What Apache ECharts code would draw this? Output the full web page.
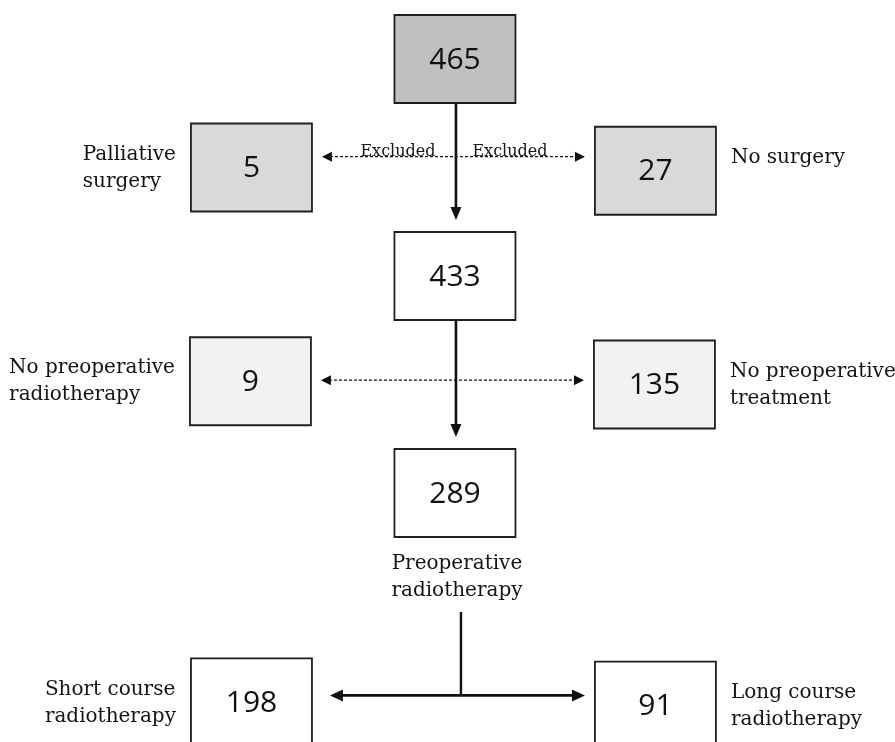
<!DOCTYPE html>
<html lang="en">
<head>
<meta charset="UTF-8">
<title>Patient flow</title>
<script src="https://cdn.jsdelivr.net/npm/echarts@6/dist/echarts.min.js"></script>
<style>
  html, body { margin: 0; padding: 0; background: #fff; }
  #main { width: 895px; height: 742px; }
</style>
</head>
<body>
<div id="main"></div>
<script>
// patient counts per box, top to bottom
const counts = [465, 5, 27, 433, 9, 135, 289, 198, 91];
const labels = ['', 'Palliative\nsurgery', 'No surgery', '', 'No preoperative\nradiotherapy',
  'No preoperative\ntreatment', 'Preoperative\nradiotherapy', 'Short course\nradiotherapy',
  'Long course\nradiotherapy'];

// main flow: [from, to]
const flow = [[0, 3], [3, 6]];
// exclusions: [left box, right box, tag]
const excluded = [[1, 2, 'Excluded'], [4, 5, '']];
// final split: [from, left, right]
const split = [[6, 7, 8]];

// layout on the flow grid: column (-1 left, 0 centre, 1 right), row (0 = top)
const cols = [0, -1.01, 0.995, 0, -1.015, 0.99, 0, -1.01, 0.995];
const rows = [0, 1, 1.03, 2, 2.97, 3, 4, 5.93, 5.96];
const exclRows = [0.9, 2.96];
const fills = ['#c0c0c0', '#d9d9d9', '#d9d9d9', '#ffffff', '#f2f2f2', '#f2f2f2', '#ffffff', '#ffffff', '#ffffff'];

const BW = 121, BH = 88;
const NUM_FONT = '30px "Open Sans"';
const LBL_FONT = '20px "DejaVu Serif"';
const TAG_FONT = '16px "DejaVu Serif"';
const LINE_H = 27;
const INK = '#111111';

// width of a multi-line label, so left labels can sit flush-left next to their box
const ctx = document.createElement('canvas').getContext('2d');
function blockWidth(text, font) {
  ctx.font = font;
  return Math.max.apply(null, text.split('\n').map(s => ctx.measureText(s).width));
}

function head(tx, ty, dx, dy, len, half, color) {
  // triangle with its tip at (tx, ty), pointing along (dx, dy)
  const bx = tx - dx * len, by = ty - dy * len;
  return {
    type: 'polygon',
    shape: { points: [[tx, ty], [bx - dy * half, by + dx * half], [bx + dy * half, by - dx * half]] },
    style: { fill: color }
  };
}
function seg(x1, y1, x2, y2, w, dash) {
  return {
    type: 'line',
    shape: { x1: x1, y1: y1, x2: x2, y2: y2 },
    style: { stroke: INK, lineWidth: w, lineDash: dash || null }
  };
}

const chart = echarts.init(document.getElementById('main'));

function renderBox(params, api) {
  const i = api.value(3);
  const p = api.coord([api.value(0), api.value(1)]);
  const kids = [
    {
      type: 'rect',
      shape: { x: p[0] - BW / 2, y: p[1] - BH / 2, width: BW, height: BH },
      style: { fill: fills[i], stroke: '#1f1f1f', lineWidth: 1.8 }
    },
    {
      type: 'text',
      style: { text: String(api.value(2)), x: p[0], y: p[1] + 1, align: 'center',
        verticalAlign: 'middle', font: NUM_FONT, fill: '#111' }
    }
  ];
  const t = labels[i];
  if (t) {
    const c = cols[i];
    let x, y, align = 'left';
    if (c < 0) {
      x = p[0] - BW / 2 - 15 - blockWidth(t, LBL_FONT);
      y = p[1] - 13 - LINE_H / 2;
    } else if (c > 0) {
      x = p[0] + BW / 2 + 15;
      y = p[1] - 13 - LINE_H / 2;
    } else {
      x = p[0] + 2;
      y = p[1] + BH / 2 + 13;
      align = 'center';
    }
    kids.push({
      type: 'text',
      style: { text: t, x: x, y: y, align: align, verticalAlign: 'top',
        font: LBL_FONT, lineHeight: LINE_H, fill: '#141414' }
    });
  }
  return { type: 'group', children: kids };
}

function pt(api, i) { return api.coord([cols[i], rows[i]]); }

function renderLink(params, api) {
  const kind = api.value(0), k = api.value(1);
  const kids = [];
  if (kind === 0) {
    const a = pt(api, flow[k][0]), b = pt(api, flow[k][1]);
    const x = a[0] + 1, y1 = a[1] + BH / 2, y2 = b[1] - BH / 2 - 12;
    kids.push(seg(x, y1, x, y2 - 10, 2.6));
    kids.push(head(x, y2, 0, 1, 13, 5.5, INK));
  } else if (kind === 1) {
    const e = excluded[k];
    const l = pt(api, e[0]), r = pt(api, e[1]);
    const y = api.coord([0, exclRows[k]])[1];
    const mid = api.coord([0, 0])[0];
    const x1 = l[0] + BW / 2 + 10, x2 = r[0] - BW / 2 - 10;
    kids.push(seg(x1 + 8, y, x2 - 8, y, 1.1, [3, 2]));
    kids.push(head(x1, y, -1, 0, 10, 5, INK));
    kids.push(head(x2, y, 1, 0, 10, 5, INK));
    if (e[2]) {
      [-57, 55].forEach(function (off) {
        kids.push({
          type: 'text',
          style: { text: e[2], x: mid + off, y: y + 3, align: 'center', verticalAlign: 'bottom',
            font: TAG_FONT, fill: '#141414' }
        });
      });
    }
  } else {
    const s = split[k];
    const a = pt(api, s[0]), l = pt(api, s[1]), r = pt(api, s[2]);
    const x = a[0] + 6, yTop = a[1] + BH / 2 + 75, yH = l[1] - 7;
    const x1 = l[0] + BW / 2 + 18, x2 = r[0] - BW / 2 - 10;
    kids.push(seg(x, yTop, x, yH, 2.4));
    kids.push(seg(x1 + 10, yH, x2 - 10, yH, 2.8));
    kids.push(head(x1, yH, -1, 0, 13, 6, INK));
    kids.push(head(x2, yH, 1, 0, 13, 6, INK));
  }
  return { type: 'group', children: kids };
}

const linkData = flow.map((f, k) => [0, k])
  .concat(excluded.map((e, k) => [1, k]))
  .concat(split.map((s, k) => [2, k]));

chart.setOption({
  animation: false,
  backgroundColor: '#ffffff',
  grid: { left: 0, right: 0, top: 0, bottom: 0 },
  xAxis: { type: 'value', min: -2.258, max: 2.184, show: false },
  yAxis: { type: 'value', min: -0.544, max: 6.295, inverse: true, show: false },
  series: [
    {
      type: 'custom',
      name: 'links',
      data: linkData,
      encode: { x: -1, y: -1 },
      clip: false,
      silent: true,
      z: 1,
      renderItem: renderLink
    },
    {
      type: 'custom',
      name: 'boxes',
      data: counts.map((v, i) => [cols[i], rows[i], v, i]),
      encode: { x: 0, y: 1 },
      clip: false,
      z: 2,
      renderItem: renderBox
    }
  ]
});
</script>
</body>
</html>
